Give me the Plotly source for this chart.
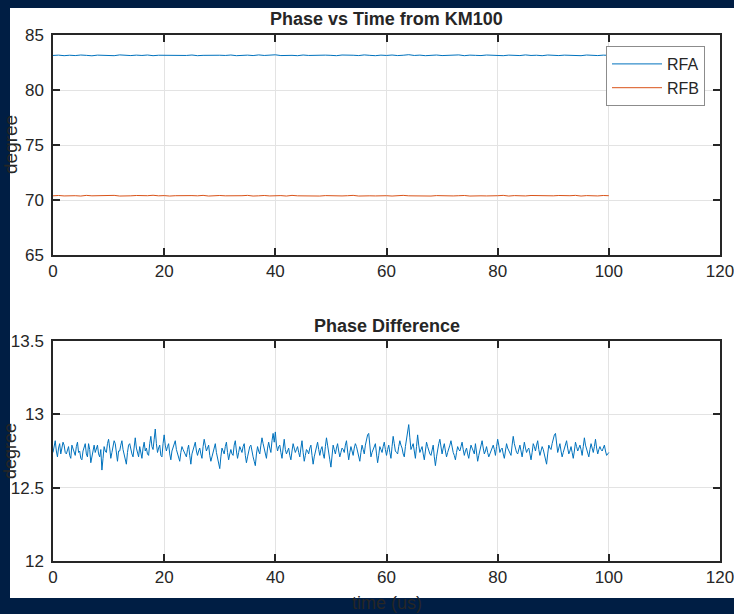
import numpy as np
import plotly.graph_objects as go

W, H = 734, 614

# ---------------- data ----------------
RFA = [83.14, 83.17, 83.12, 83.16, 83.13, 83.18, 83.15, 83.11, 83.17, 83.14,
       83.16, 83.12, 83.19, 83.15, 83.13, 83.17, 83.14, 83.18, 83.12, 83.16,
       83.15, 83.19, 83.13, 83.16, 83.14, 83.18, 83.12, 83.15, 83.17, 83.13,
       83.16, 83.14, 83.18, 83.12, 83.15, 83.17, 83.13, 83.19, 83.14, 83.16,
       83.20, 83.13, 83.17, 83.15, 83.12, 83.18, 83.14, 83.16, 83.13, 83.17,
       83.15, 83.12, 83.18, 83.14, 83.16, 83.13, 83.19, 83.15, 83.12, 83.17,
       83.14, 83.18, 83.13, 83.16, 83.21, 83.14, 83.17, 83.12, 83.15, 83.18,
       83.13, 83.16, 83.14, 83.19, 83.12, 83.17, 83.15, 83.13, 83.18, 83.14,
       83.16, 83.12, 83.17, 83.15, 83.13, 83.19, 83.14, 83.16, 83.12, 83.18,
       83.15, 83.13, 83.17, 83.14, 83.16, 83.12, 83.18, 83.15, 83.13, 83.17,
       83.15]

RFB = [70.38, 70.41, 70.37, 70.40, 70.39, 70.36, 70.42, 70.38, 70.40, 70.37,
       70.39, 70.42, 70.36, 70.40, 70.38, 70.41, 70.37, 70.39, 70.43, 70.38,
       70.40, 70.36, 70.39, 70.41, 70.37, 70.40, 70.38, 70.42, 70.36, 70.39,
       70.41, 70.38, 70.37, 70.40, 70.39, 70.42, 70.36, 70.38, 70.41, 70.37,
       70.39, 70.40, 70.36, 70.42, 70.38, 70.37, 70.41, 70.39, 70.36, 70.40,
       70.38, 70.41, 70.37, 70.39, 70.42, 70.36, 70.40, 70.38, 70.37, 70.41,
       70.39, 70.36, 70.40, 70.42, 70.38, 70.37, 70.41, 70.39, 70.36, 70.40,
       70.38, 70.42, 70.37, 70.39, 70.41, 70.36, 70.40, 70.38, 70.37, 70.41,
       70.39, 70.42, 70.36, 70.40, 70.38, 70.37, 70.41, 70.39, 70.36, 70.40,
       70.38, 70.41, 70.37, 70.39, 70.42, 70.36, 70.40, 70.38, 70.37, 70.41,
       70.39]

DIFF = [12.74, 12.79, 12.82, 12.75, 12.71, 12.77, 12.80, 12.73, 12.77, 12.81,
        12.79, 12.74, 12.73, 12.76, 12.78, 12.72, 12.70, 12.79, 12.76, 12.73,
        12.72, 12.78, 12.81, 12.74, 12.75, 12.70, 12.69, 12.75, 12.77, 12.80,
        12.73, 12.71, 12.80, 12.76, 12.67, 12.72, 12.76, 12.79, 12.74, 12.77,
        12.79, 12.73, 12.71, 12.76, 12.62, 12.70, 12.78, 12.75, 12.74, 12.80,
        12.83, 12.77, 12.70, 12.74, 12.77, 12.82, 12.80, 12.72, 12.68, 12.75,
        12.75, 12.79, 12.82, 12.76, 12.73, 12.69, 12.66, 12.74, 12.79, 12.80,
        12.76, 12.73, 12.71, 12.78, 12.84, 12.77, 12.74, 12.71, 12.78, 12.75,
        12.70, 12.77, 12.81, 12.75, 12.77, 12.73, 12.72, 12.80, 12.85, 12.78,
        12.76, 12.83, 12.90, 12.80, 12.74, 12.77, 12.79, 12.72, 12.71, 12.80,
        12.86, 12.79, 12.75, 12.78, 12.80, 12.73, 12.69, 12.75, 12.77, 12.80,
        12.82, 12.76, 12.73, 12.70, 12.68, 12.74, 12.78, 12.76, 12.74, 12.72,
        12.71, 12.76, 12.79, 12.72, 12.66, 12.73, 12.76, 12.80, 12.81, 12.75,
        12.72, 12.75, 12.77, 12.73, 12.70, 12.78, 12.83, 12.79, 12.75, 12.77,
        12.79, 12.72, 12.68, 12.71, 12.74, 12.78, 12.80, 12.74, 12.71, 12.66,
        12.63, 12.71, 12.77, 12.75, 12.73, 12.78, 12.81, 12.74, 12.69, 12.73,
        12.76, 12.73, 12.72, 12.79, 12.82, 12.75, 12.70, 12.74, 12.78, 12.76,
        12.74, 12.78, 12.80, 12.72, 12.67, 12.71, 12.75, 12.78, 12.79, 12.74,
        12.71, 12.68, 12.65, 12.73, 12.78, 12.75, 12.73, 12.79, 12.84, 12.80,
        12.76, 12.72, 12.70, 12.77, 12.81, 12.77, 12.74, 12.82, 12.87, 12.81,
        12.88, 12.79, 12.75, 12.78, 12.79, 12.74, 12.70, 12.77, 12.83, 12.76,
        12.73, 12.75, 12.77, 12.72, 12.69, 12.75, 12.80, 12.77, 12.74, 12.76,
        12.78, 12.74, 12.71, 12.77, 12.82, 12.74, 12.68, 12.72, 12.76, 12.75,
        12.73, 12.77, 12.79, 12.72, 12.66, 12.71, 12.75, 12.79, 12.81, 12.76,
        12.72, 12.76, 12.78, 12.73, 12.70, 12.78, 12.84, 12.79, 12.75, 12.69,
        12.64, 12.72, 12.79, 12.76, 12.73, 12.77, 12.80, 12.75, 12.71, 12.74,
        12.77, 12.76, 12.74, 12.79, 12.82, 12.75, 12.69, 12.74, 12.78, 12.75,
        12.72, 12.77, 12.80, 12.78, 12.75, 12.71, 12.68, 12.74, 12.79, 12.76,
        12.73, 12.79, 12.83, 12.86, 12.87, 12.78, 12.71, 12.74, 12.76, 12.79,
        12.80, 12.73, 12.67, 12.72, 12.78, 12.76, 12.74, 12.78, 12.81, 12.76,
        12.72, 12.76, 12.79, 12.74, 12.70, 12.78, 12.85, 12.80, 12.75, 12.74,
        12.73, 12.78, 12.82, 12.79, 12.77, 12.73, 12.71, 12.78, 12.84, 12.88,
        12.93, 12.84, 12.76, 12.78, 12.80, 12.75, 12.70, 12.78, 12.86, 12.79,
        12.74, 12.76, 12.78, 12.73, 12.69, 12.75, 12.81, 12.78, 12.75, 12.73,
        12.72, 12.76, 12.79, 12.71, 12.65, 12.71, 12.77, 12.80, 12.83, 12.77,
        12.73, 12.77, 12.80, 12.75, 12.71, 12.74, 12.76, 12.79, 12.82, 12.77,
        12.74, 12.72, 12.69, 12.74, 12.78, 12.76, 12.75, 12.78, 12.81, 12.76,
        12.72, 12.75, 12.77, 12.73, 12.70, 12.75, 12.79, 12.77, 12.74, 12.73,
        12.80, 12.74, 12.68, 12.72, 12.76, 12.79, 12.82, 12.77, 12.73, 12.75,
        12.78, 12.74, 12.71, 12.73, 12.75, 12.77, 12.79, 12.76, 12.72, 12.78,
        12.83, 12.79, 12.74, 12.76, 12.77, 12.73, 12.70, 12.75, 12.80, 12.77,
        12.75, 12.73, 12.72, 12.79, 12.85, 12.80, 12.76, 12.74, 12.73, 12.76,
        12.79, 12.75, 12.71, 12.76, 12.81, 12.77, 12.74, 12.76, 12.77, 12.73,
        12.69, 12.74, 12.80, 12.78, 12.75, 12.79, 12.82, 12.76, 12.72, 12.75,
        12.78, 12.76, 12.73, 12.69, 12.66, 12.73, 12.79, 12.77, 12.76, 12.80,
        12.84, 12.86, 12.87, 12.80, 12.74, 12.77, 12.80, 12.75, 12.71, 12.74,
        12.77, 12.80, 12.82, 12.77, 12.73, 12.75, 12.78, 12.74, 12.70, 12.75,
        12.81, 12.78, 12.75, 12.77, 12.79, 12.76, 12.72, 12.78, 12.84, 12.79,
        12.76, 12.73, 12.71, 12.76, 12.80, 12.77, 12.74, 12.78, 12.83, 12.77,
        12.73, 12.76, 12.78, 12.76, 12.75, 12.77, 12.79, 12.75, 12.72, 12.73,
        12.74]

T_START, T_END = 0, 100
TIME_TOP = np.linspace(T_START, T_END, len(RFA))
TIME_DIFF = np.linspace(T_START, T_END, len(DIFF))

X_TICKS = [0, 20, 40, 60, 80, 100, 120]
Y1_TICKS = [65, 70, 75, 80, 85]
Y2_TICKS = [12, 12.5, 13, 13.5]
Y2_LABELS = ["12", "12.5", "13", "13.5"]

TITLE_TOP = "<b>Phase vs Time from KM100</b>"
TITLE_BOT = "<b>Phase Difference</b>"

# ---------------- layout helpers ----------------
def px_x(x):
    return x / W

def px_y(y):
    return (H - y) / H

NAVY = "#001e44"
AX = "#262626"
GRID = "#e3e3e3"
FONT = "Liberation Sans, Arial, sans-serif"

fig = go.Figure()
fig.add_trace(go.Scatter(x=TIME_TOP, y=RFA, mode="lines", name="RFA",
                         line=dict(color="#0072BD", width=1), xaxis="x", yaxis="y"))
fig.add_trace(go.Scatter(x=TIME_TOP, y=RFB, mode="lines", name="RFB",
                         line=dict(color="#D95319", width=1), xaxis="x", yaxis="y"))
fig.add_trace(go.Scatter(x=TIME_DIFF, y=DIFF, mode="lines", name="diff", showlegend=False,
                         line=dict(color="#0072BD", width=1), xaxis="x2", yaxis="y2"))

axis_common = dict(showline=True, linecolor=AX, linewidth=1.5, mirror="ticks",
                   ticks="inside", ticklen=7, tickwidth=1.5, tickcolor=AX,
                   showgrid=True, gridcolor=GRID, gridwidth=1, zeroline=False,
                   automargin=False, ticklabeloverflow="allow",
                   tickfont=dict(family=FONT, size=17, color=AX))

xd = [px_x(53), px_x(720)]
fig.update_layout(
    width=W, height=H,
    margin=dict(l=0, r=0, t=0, b=0, pad=0, autoexpand=False),
    paper_bgcolor=NAVY, plot_bgcolor="white",
    font=dict(family=FONT, color=AX),
    xaxis=dict(domain=xd, range=[0, 120], tickvals=X_TICKS, anchor="y", **axis_common),
    yaxis=dict(domain=[px_y(255), px_y(35)], range=[65, 85], tickvals=Y1_TICKS,
               anchor="x", ticklabelstandoff=4, **axis_common),
    xaxis2=dict(domain=xd, range=[0, 120], tickvals=X_TICKS, anchor="y2", **axis_common),
    yaxis2=dict(domain=[px_y(561), px_y(341)], range=[12, 13.5], tickvals=Y2_TICKS,
                ticktext=Y2_LABELS, anchor="x2", ticklabelstandoff=4, **axis_common),
    legend=dict(x=px_x(705), y=px_y(46), xanchor="right", yanchor="top",
                bgcolor="white", bordercolor="#8c8c8c", borderwidth=1, itemwidth=50,
                font=dict(family=FONT, size=16, color=AX), tracegroupgap=0),
    showlegend=True,
)

fig.add_shape(type="rect", xref="paper", yref="paper",
              x0=px_x(10), x1=1.05, y0=px_y(598), y1=px_y(8),
              fillcolor="white", line=dict(width=0), layer="below")

ann = [
    dict(text=TITLE_TOP, x=(xd[0] + xd[1]) / 2, y=px_y(19), size=18, angle=0),
    dict(text=TITLE_BOT, x=(xd[0] + xd[1]) / 2, y=px_y(326), size=18, angle=0),
    dict(text="degree", x=px_x(10), y=px_y(145), size=19, angle=-90),
    dict(text="degree", x=px_x(10), y=px_y(451), size=18, angle=-90),
    dict(text="time (us)", x=(xd[0] + xd[1]) / 2, y=px_y(603), size=18, angle=0),
]
for a in ann:
    fig.add_annotation(text=a["text"], x=a["x"], y=a["y"], xref="paper", yref="paper",
                       xanchor="center", yanchor="middle", showarrow=False,
                       textangle=a["angle"], font=dict(family=FONT, size=a["size"], color=AX))

fig.write_html("out.html")
